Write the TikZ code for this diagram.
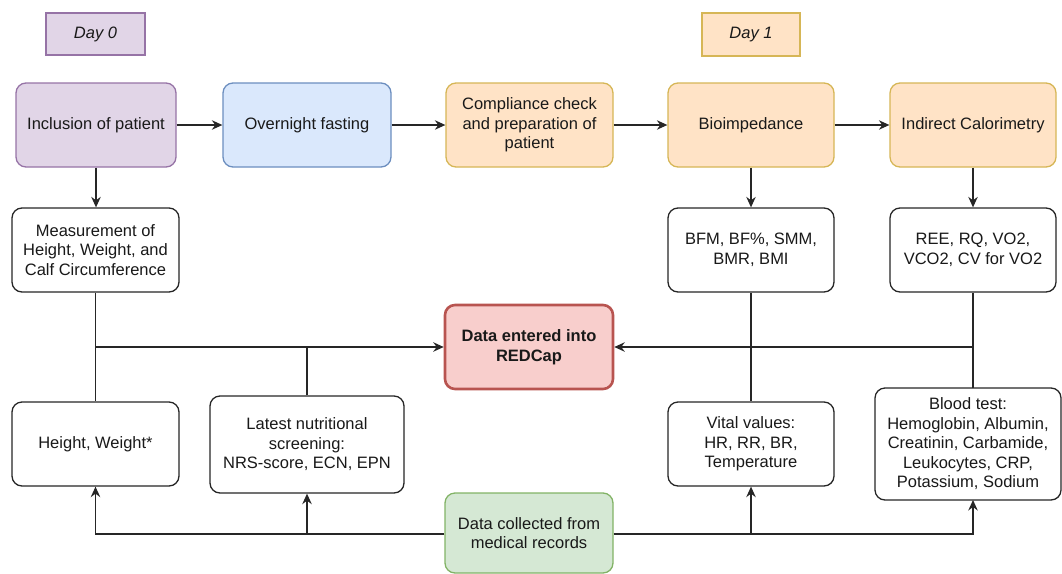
\documentclass[tikz,border=0pt]{standalone}
\usepackage{fontspec}
\setmainfont{Liberation Sans}
\usetikzlibrary{arrows.meta}
\definecolor{purF}{HTML}{E1D5E7}\definecolor{purD}{HTML}{9673A6}
\definecolor{bluF}{HTML}{DAE8FC}\definecolor{bluD}{HTML}{6C8EBF}
\definecolor{orgF}{HTML}{FFE3C6}\definecolor{orgD}{HTML}{D6B656}
\definecolor{redF}{HTML}{F8CECC}\definecolor{redD}{HTML}{B85450}
\definecolor{grnF}{HTML}{D5E8D4}\definecolor{grnD}{HTML}{82B366}
\newcommand\myfs{\fontsize{16.5}{19.5}\selectfont}
\tikzset{
  base/.style={line width=1.3pt, rounded corners=10pt, align=center, inner sep=0pt, font=\myfs, text=black!90},
  wbox/.style={base, draw=black!85, fill=white},
  pbox/.style={base, draw=purD, fill=purF},
  bbox/.style={base, draw=bluD, fill=bluF},
  obox/.style={base, draw=orgD, fill=orgF},
  rbox/.style={base, draw=redD, fill=redF, line width=2.6pt, font=\myfs\bfseries},
  gbox/.style={base, draw=grnD, fill=grnF},
  daybox/.style={line width=1.3pt, inner sep=0pt, font=\myfs\itshape, text=black!90},
  arr/.style={-{Stealth[length=10.5pt,width=9.5pt,inset=3.5pt]}, line width=1.3pt, draw=black!85},
  ln/.style={line width=1.3pt, draw=black!85},
}
\begin{document}
\begin{tikzpicture}[x=1pt,y=-1pt]
\useasboundingbox (0,0) rectangle (1062,573);
% day labels
\node[daybox, draw=purD, fill=purF, minimum width=99, minimum height=42] (d0) at (95.5,34) {Day 0};
\node[daybox, draw=orgD, fill=orgF, minimum width=98, minimum height=43] (d1) at (751,34.5) {Day 1};
% top row
\node[pbox, minimum width=160, minimum height=84] (incl) at (96,125) {Inclusion of patient};
\node[bbox, minimum width=168, minimum height=84] (over) at (307,125) {Overnight fasting};
\node[obox, minimum width=167, minimum height=84] (comp) at (529.5,125) {Compliance check\\and preparation of\\patient};
\node[obox, minimum width=166, minimum height=84] (bio) at (751,125) {Bioimpedance};
\node[obox, minimum width=166, minimum height=84] (ic) at (973,125) {Indirect Calorimetry};
% second row
\node[wbox, minimum width=167, minimum height=84] (meas) at (95.5,250) {Measurement of\\Height, Weight, and\\Calf Circumference};
\node[wbox, minimum width=166, minimum height=84] (bfm) at (751,250) {BFM, BF\%, SMM,\\BMR, BMI};
\node[wbox, minimum width=166, minimum height=84] (ree) at (973,250) {REE, RQ, VO2,\\VCO2, CV for VO2};
% centre
\node[rbox, minimum width=168, minimum height=84] (red) at (529,347) {Data entered into\\REDCap};
% third row
\node[wbox, minimum width=167, minimum height=84] (hw) at (95.5,444) {Height, Weight*};
\node[wbox, minimum width=194, minimum height=97] (nut) at (307,444.5) {Latest nutritional\\screening:\\NRS-score, ECN, EPN};
\node[wbox, minimum width=166, minimum height=84] (vit) at (751,444) {Vital values:\\HR, RR, BR,\\Temperature};
\node[wbox, minimum width=186, minimum height=112] (blood) at (968,444) {Blood test:\\Hemoglobin, Albumin,\\Creatinin, Carbamide,\\Leukocytes, CRP,\\Potassium, Sodium};
% bottom
\node[gbox, minimum width=168, minimum height=80] (grn) at (529,533) {Data collected from\\medical records};
% junction coordinates at blood test box
\coordinate (btop) at (973,388);
\coordinate (bbot) at (973,500);
% top row arrows
\draw[arr] (incl) -- (over);
\draw[arr] (over) -- (comp);
\draw[arr] (comp) -- (bio);
\draw[arr] (bio) -- (ic);
\draw[arr] (incl.south) -- (incl.south |- meas.north);
\draw[arr] (bio) -- (bfm);
\draw[arr] (ic) -- (ree);
% to REDCap
\draw[ln] (meas.south) -- (hw.north);
\draw[arr] (meas.south |- red.west) -- (red.west);
\draw[ln] (nut.north) -- (nut.north |- red.west);
\draw[ln] (bfm.south) -- (vit.north);
\draw[ln] (ree.south) -- (btop);
\draw[arr] (ree.south |- red.east) -- (red.east);
% from medical records
\draw[arr] (grn.west |- 0,534) -| (hw.south);
\draw[arr] (nut.south |- 0,534) -- (nut.south);
\draw[arr] (grn.east |- 0,534) -| (bbot);
\draw[arr] (vit.south |- 0,534) -- (vit.south);
\end{tikzpicture}
\end{document}
